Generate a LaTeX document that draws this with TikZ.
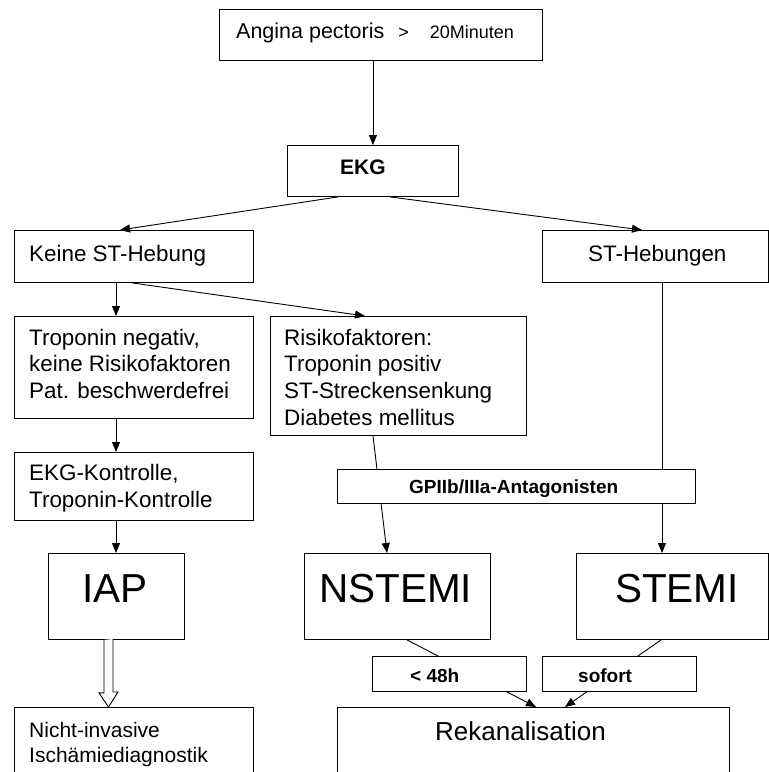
\documentclass[tikz,border=0pt]{standalone}
\usepackage{fontspec}
\setmainfont{Liberation Sans}
\usetikzlibrary{arrows.meta,calc}
\newcommand\fsz[2]{\fontsize{#1pt}{#2pt}\selectfont}
\begin{document}
\begin{tikzpicture}[x=1pt,y=-1pt,
  box/.style={draw=black,line width=0.9pt,fill=white,inner sep=0pt,anchor=north west},
  txt/.style={inner sep=0pt,anchor=base west,align=left,font=\fsz{22.4}{26.6}},
  big/.style={inner sep=0pt,anchor=base west,font=\fsz{40.5}{48}},
  bld/.style={inner sep=0pt,anchor=base west,font=\fsz{19}{23}\bfseries},
  conn/.style={line width=0.9pt,draw=black},
  arr/.style={conn,-{Triangle[length=10pt,width=8pt]}}]
\useasboundingbox (0,0) rectangle (769,772);
% main boxes
\node[box,minimum width=323pt,minimum height=51pt] (top) at (219,9) {};
\node[box,minimum width=171pt,minimum height=51pt] (ekg) at (287,145) {};
\node[box,minimum width=239pt,minimum height=52pt] (keine) at (14,230) {};
\node[box,minimum width=226pt,minimum height=52pt] (sth) at (542,230) {};
\node[box,minimum width=239pt,minimum height=102pt] (trop) at (14,316) {};
\node[box,minimum width=256pt,minimum height=119pt] (risk) at (270,316) {};
\node[box,minimum width=239pt,minimum height=68pt] (ekgk) at (14,452) {};
\node[box,minimum width=136pt,minimum height=86pt] (iap) at (48,553) {};
\node[box,minimum width=186pt,minimum height=86pt] (nst) at (304,553) {};
\node[box,minimum width=192pt,minimum height=86pt] (stemi) at (576,553) {};
\node[box,minimum width=239pt,minimum height=80pt] (nicht) at (14,707) {};
\node[box,minimum width=392pt,minimum height=80pt] (rek) at (337,707) {};
% texts (multi-line nodes: base = baseline of last line)
\node[inner sep=0pt,anchor=base west,font=\fsz{21.5}{26}] (top-t) at (236,38.3)
  {Angina pectoris\kern14pt{\fsz{18}{22}>\kern21pt20Minuten}};
\node[inner sep=0pt,anchor=base west,font=\fsz{21}{25}\bfseries] (ekg-t) at (340,174.5) {EKG};
\node[txt] (keine-t) at (29,261) {Keine ST-Hebung};
\node[txt] (sth-t) at (588,261) {ST-Hebungen};
\node[txt] (trop-t) at (29,398.5) {Troponin negativ,\\keine Risikofaktoren\\Pat. beschwerdefrei};
\node[txt] (risk-t) at (284,425) {Risikofaktoren:\\Troponin positiv\\ST-Streckensenkung\\Diabetes mellitus};
\node[txt] (ekgk-t) at (29,507.5) {EKG-Kontrolle,\\Troponin-Kontrolle};
\node[big] (iap-t) at (82,602) {IAP};
\node[big] (nst-t) at (319,602) {NSTEMI};
\node[big] (stemi-t) at (615,602) {STEMI};
\node[txt,font=\fsz{21}{25}] (nicht-t) at (29,762.5) {Nicht-invasive\\Ischämiediagnostik};
\node[inner sep=0pt,anchor=base west,font=\fsz{26}{30}] (rek-t) at (435,740) {Rekanalisation};
% connectors
\draw[arr] (ekg.north |- top.south) -- (ekg.north);
\draw[arr] ($(ekg.south west)+(51,0)$) -- ($(keine.north west)+(106,0)$);
\draw[arr] ($(ekg.south west)+(103,0)$) -- ($(sth.north west)+(100,0)$);
\draw[arr] ($(keine.south west)+(102,0)$) -- ($(trop.north west)+(102,0)$);
\draw[arr] ($(keine.south west)+(118,0)$) -- ($(risk.north west)+(95,0)$);
\draw[arr] ($(trop.south west)+(102,0)$) -- ($(ekgk.north west)+(102,0)$);
\draw[arr] ($(ekgk.south west)+(102,0)$) -- ($(iap.north west)+(68,0)$);
\draw[arr] ($(risk.south west)+(103,0)$) -- ($(nst.north west)+(83,0)$);
\draw[arr] ($(sth.south west)+(120,0)$) -- ($(stemi.north west)+(86,0)$);
\draw[arr] ($(nst.south west)+(103,0)$) -- ($(rek.north west)+(199,0)$);
\draw[arr] ($(stemi.south west)+(85,0)$) -- ($(rek.north west)+(228,0)$);
% hollow arrow IAP -> Nicht-invasive
\coordinate (hs) at ($(iap.south west)+(60.5,0)$);
\draw[conn,fill=white,line join=miter] ($(hs)+(-4.5,0)$) -- ++(0,53) -- ++(-5,0)
  -- (hs |- nicht.north) -- ++(9.5,-15) -- ++(-5,0) -- ++(0,-53);
% label boxes drawn over the connectors
\node[box,minimum width=358pt,minimum height=34pt] (gp) at (337,469) {};
\node[bld] (gp-t) at (409,493) {GPIIb/IIIa-Antagonisten};
\node[box,minimum width=154pt,minimum height=35pt] (h48) at (372,656) {};
\node[bld] (h48-t) at (410,682) {< 48h};
\node[box,minimum width=154pt,minimum height=35pt] (sof) at (542,656) {};
\node[bld] (sof-t) at (578,682) {sofort};
\end{tikzpicture}
\end{document}
